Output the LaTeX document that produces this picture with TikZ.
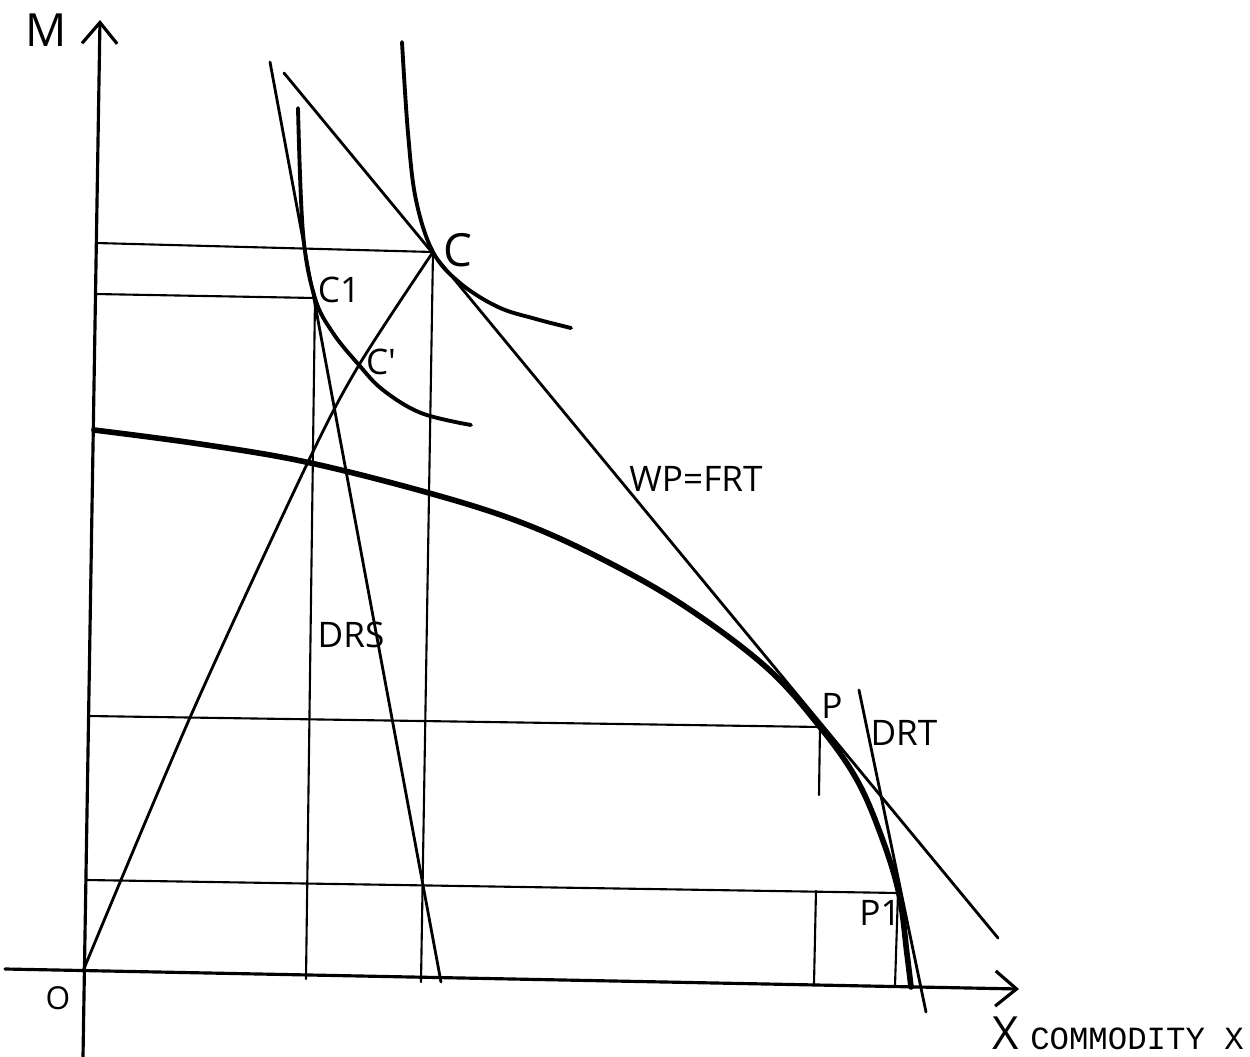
\documentclass[tikz,border=0pt]{standalone}
\usepackage{fontspec}
\newfontfamily\handfont{Open Sans}
\newfontfamily\typefont{Liberation Mono}
\usetikzlibrary{arrows.meta}

\begin{document}
\begin{tikzpicture}[
	x=0.01cm, y=-0.01cm,
	asse/.style={line width=0.9pt, line cap=round, -{Straight Barb[length=6pt, width=10pt, line width=0.9pt]}},
	guida/.style={line width=0.6pt, line cap=round},
	retta/.style={line width=0.8pt, line cap=round},
	frontiera/.style={line width=1.6pt, line cap=round, line join=round},
	indiff/.style={line width=1.1pt, line cap=round, line join=round},
	etich/.style={font=\handfont\fontsize{10}{10}\selectfont, inner sep=1pt},
	etichG/.style={font=\handfont\fontsize{13}{13}\selectfont, inner sep=1pt},
	]
	\useasboundingbox (0,0) rectangle (1250,1057);
	
	%% punti notevoli
	\coordinate (O) at (83,971);
	\coordinate (Ybot) at (83,1057);
	\coordinate (Ytop) at (100,20);
	\coordinate (Xsx) at (5,969);
	\coordinate (Xdx) at (1019,989);
	\coordinate (C) at (433,252);
	\coordinate (C1) at (315,298);
	\coordinate (Cp) at (359,365);
	\coordinate (P) at (820,727);
	\coordinate (P1) at (898,893);
	
	%% assi
	\draw[asse](Ybot)--(Ytop);
	\draw[asse](Xsx)--(Xdx);
	
	%% proiezioni sugli assi
	\draw[guida](96,243)--(C);
	\draw[guida](95,294)--(C1);
	\draw[guida](88,716)--(P);
	\draw[guida](86,880)--(P1);
	\draw[guida](C1)--(306,979);
	\draw[guida](C)--(421,982);
	\draw[guida](P)--(819,795);
	\draw[guida](816,891)--(814,984);
	\draw[guida](P1)--(895,986);
	
	%% frontiera delle possibilita' produttive
	\draw[frontiera] plot[smooth, tension=0.6] coordinates {(94,430) (200,444) (306,462) (429,493)
		(520,522) (600,558) (683,605) (766,667) (820,727) (857,780) (882,838)
		(899,894) (907,954) (911,987)};
	
	%% raggio dall'origine
	\draw[retta] plot[smooth] coordinates {(O) (192,713) (308,462) (Cp) (C)};
	
	%% curve di indifferenza
	\draw[indiff] plot[smooth, tension=0.6] coordinates {(298,108) (303,233) (C1) (333,333)
		(Cp) (383,390) (421,413) (471,425)};
	\draw[indiff] plot[smooth, tension=0.6] coordinates {(402,42) (408,133) (416,200) (C)
		(460,283) (498,307) (536,319) (571,328)};
	
	%% rette di prezzo
	\draw[retta](270,62)--(441,982);  % DRS
	\draw[retta](284,73)--(998,938);  % WP=FRT
	\draw[retta](859,690)--(926,1012);% DRT
	
	%% etichette
	\node[etichG](labM)at(46,30){M};
	\node[etich, font=\handfont\fontsize{9}{9}\selectfont](labO)at(58,998){O};
	\node[etichG](labC)at(458,250){C};
	\node[etich](labC1)at(339,290){C1};
	\node[etich](labCp)at(381,362){C'};
	\node[etich](labWP)at(696,479){WP=FRT};
	\node[etich](labDRS)at(351,635){DRS};
	\node[etich](labP)at(832,706){P};
	\node[etich](labDRT)at(904,733){DRT};
	\node[etich](labP1)at(880,913){P1};
	\node[inner sep=1pt](labX)at(1118,1033){{\handfont\fontsize{13}{13}\selectfont X}\ {\typefont\fontsize{9.2}{10}\selectfont COMMODITY X}};
	
\end{tikzpicture}
\end{document}
